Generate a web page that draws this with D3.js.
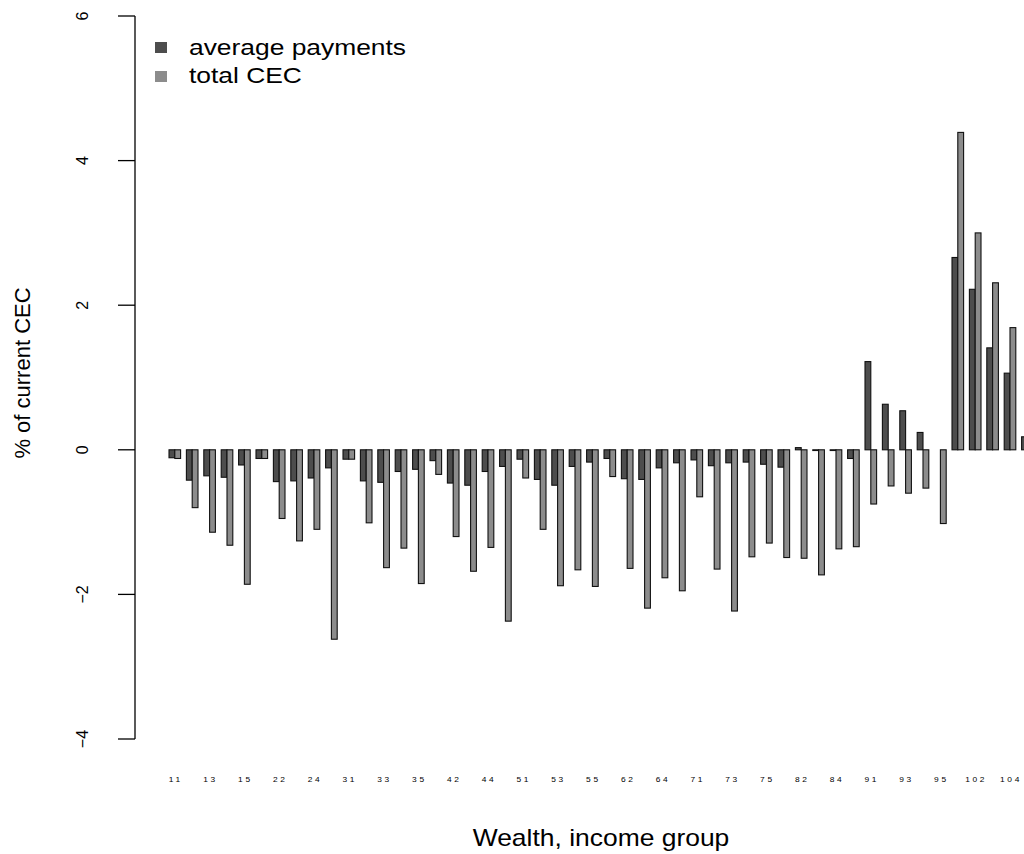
<!DOCTYPE html>
<html><head><meta charset="utf-8">
<script src="https://cdn.jsdelivr.net/npm/d3@7"></script>
<style>body{margin:0;background:#fff;} svg{display:block;font-family:"Liberation Sans",Arial,sans-serif;}</style>
</head><body>
<svg id="c" width="1024" height="854"></svg>
<script>
const categories = ["11","12","13","14","15","21","22","23","24","25","31","32","33","34","35","41","42","43","44","45","51","52","53","54","55","61","62","63","64","65","71","72","73","74","75","81","82","83","84","85","91","92","93","94","95","101","102","103","104","105"];
const averagePayments = [-0.11,-0.42,-0.36,-0.38,-0.21,-0.12,-0.44,-0.43,-0.39,-0.25,-0.13,-0.43,-0.45,-0.30,-0.27,-0.15,-0.46,-0.49,-0.30,-0.23,-0.13,-0.41,-0.49,-0.23,-0.17,-0.12,-0.40,-0.41,-0.25,-0.18,-0.14,-0.22,-0.18,-0.17,-0.20,-0.24,0.03,-0.01,-0.01,-0.12,1.22,0.63,0.54,0.24,0.0,2.66,2.22,1.41,1.06,0.18];
const totalCEC = [-0.12,-0.80,-1.14,-1.32,-1.86,-0.12,-0.95,-1.26,-1.10,-2.62,-0.13,-1.01,-1.63,-1.36,-1.85,-0.34,-1.20,-1.68,-1.35,-2.37,-0.39,-1.10,-1.88,-1.66,-1.89,-0.37,-1.64,-2.19,-1.77,-1.95,-0.65,-1.65,-2.23,-1.48,-1.29,-1.49,-1.50,-1.73,-1.37,-1.34,-0.75,-0.50,-0.60,-0.53,-1.02,4.39,3.00,2.31,1.69,0.30];
const yTicks = [-4,-2,0,2,4,6];
const seriesNames = ["average payments","total CEC"];
const seriesColors = ["#4d4d4d","#8c8c8c"];

const svg = d3.select("#c");
const x = d3.scaleLinear().domain([0,150]).range([163.2, 163.2+150*5.8]);
const y = d3.scaleLinear().domain([-4,6]).range([739,16]);

// text helper; sx = horizontal stretch (reference glyphs are wide)
function stext(px, py, rot, anchor, size, str, sx, spacing) {
  const t = svg.append("g").attr("transform", `translate(${px},${py}) scale(${sx||1},1) rotate(${rot})`)
    .append("text").attr("text-anchor", anchor).attr("font-size", size).attr("fill","#000").text(str);
  if (spacing) t.attr("letter-spacing", spacing);
  return t;
}

const g = svg.append("g");
[averagePayments, totalCEC].forEach((vals, s) => {
  g.selectAll(null).data(vals).enter().append("rect")
    .attr("x", (d,i) => x(1+3*i+s))
    .attr("width", x(1)-x(0))
    .attr("y", d => y(Math.max(0,d)))
    .attr("height", d => Math.abs(y(d)-y(0)))
    .attr("fill", seriesColors[s])
    .attr("stroke", "#111").attr("stroke-width", 1.1);
});

// y axis
const ya = svg.append("g").attr("transform","translate(135,0)");
ya.append("line").attr("x1",0).attr("x2",0).attr("y1",y(6)).attr("y2",y(-4)).attr("stroke","#000").attr("stroke-width",1.3);
yTicks.forEach(t => {
  ya.append("line").attr("x1",0).attr("x2",-17).attr("y1",y(t)).attr("y2",y(t)).attr("stroke","#000").attr("stroke-width",1.3);
  stext(88, y(t), -90, "middle", 16, t<0?"\u2212"+Math.abs(t):String(t));
});

// category labels (every other one, as in the reference)
categories.forEach((c,i) => {
  if (i%2) return;
  stext(x(2+3*i)+1, 782, 0, "middle", 7, c, 1.2, 2.2);
});

// titles
stext(601, 846, 0, "middle", 23, "Wealth, income group", 1.15);
stext(30, 373, -90, "middle", 22, "% of current CEC");

// legend
seriesNames.forEach((n,i) => {
  svg.append("rect").attr("x",155).attr("y",42+29*i).attr("width",12).attr("height",11).attr("fill",seriesColors[i]);
  stext(189, 55+28*i, 0, "start", 22, n, 1.2);
});
</script>
</body></html>
